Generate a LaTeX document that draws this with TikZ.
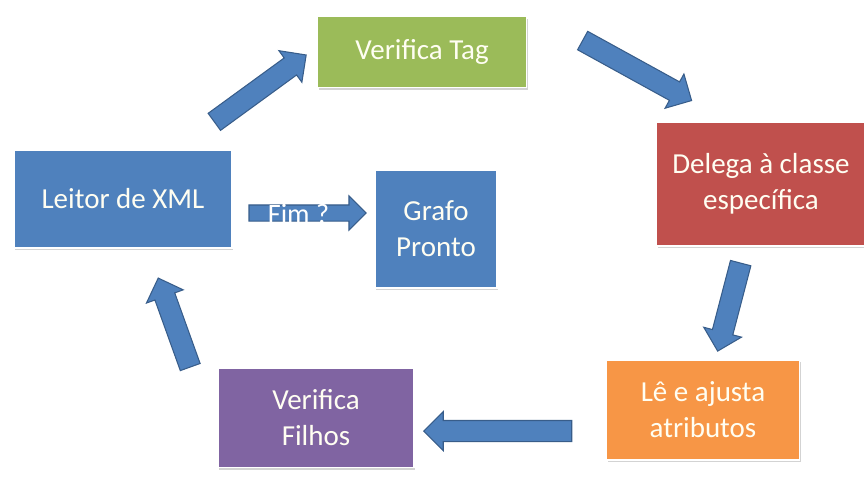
\documentclass[tikz,border=0pt]{standalone}
\usepackage{fontspec}
\setmainfont{Carlito}
\usetikzlibrary{shapes.arrows,calc,shadows}
\definecolor{cxml}{HTML}{4F81BD}
\definecolor{ctag}{HTML}{9BBB59}
\definecolor{cdel}{HTML}{C0504D}
\definecolor{catr}{HTML}{F79646}
\definecolor{cfil}{HTML}{8064A2}
\definecolor{cseta}{HTML}{385D8A}
\tikzset{
  caixa/.style={rectangle, draw=white, line width=1pt, text=white!95!yellow, align=center,
    font=\fontsize{16.5}{20.5}\selectfont, inner sep=2pt,
    drop shadow={opacity=0.35, shadow xshift=0.6pt, shadow yshift=-1.2pt}},
  seta/.style={single arrow, fill=cxml, draw=cseta, line width=0.6pt, inner xsep=0pt,
    inner ysep=0.2cm, single arrow head extend=0.18cm, single arrow tip angle=90,
    minimum width=0.76cm, anchor=center}
}
\begin{document}
\begin{tikzpicture}[x=0.02cm, y=-0.02cm]
\useasboundingbox (0,0) rectangle (864,491);
% caixas
\node[caixa, fill=cxml, minimum width=4.36cm, minimum height=1.96cm] (xml) at (123,199) {Leitor de XML};
\node[caixa, fill=ctag, minimum width=4.18cm, minimum height=1.42cm] (tag) at (422,52) {Verifica Tag};
\node[caixa, fill=cdel, minimum width=4.18cm, minimum height=2.48cm] (del) at (761,184) {Delega à classe\\específica};
\node[caixa, fill=catr, minimum width=3.86cm, minimum height=2.0cm] (atr) at (703,410) {Lê e ajusta\\atributos};
\node[caixa, fill=cfil, minimum width=3.92cm, minimum height=1.98cm] (fil) at (316,418) {Verifica\\Filhos};
\node[caixa, fill=cxml, minimum width=2.44cm, minimum height=2.36cm] (graf) at (436,229) {Grafo\\Pronto};
% pontas das setas
\coordinate (s1a) at (210,125); \coordinate (s1b) at (302,58);
\coordinate (s2a) at (578,38);  \coordinate (s2b) at (687,98);
\coordinate (s3a) at (742,258); \coordinate (s3b) at (719,346);
\coordinate (s4a) at (577,431); \coordinate (s4b) at (429,431);
\coordinate (s5a) at (192,372); \coordinate (s5b) at (160,283);
% setas
\foreach \s/\e in {s1a/s1b, s2a/s2b, s3a/s3b, s4a/s4b, s5a/s5b}
  \path let \p1=(\s), \p2=(\e), \n1={atan2(\y2-\y1,\x2-\x1)}, \n2={veclen(\x2-\x1,\y2-\y1)} in
    node[seta, rotate=\n1, minimum height=\n2] at ($(\s)!0.5!(\e)$) {};
\coordinate (fima) at (245,213); \coordinate (fimb) at (362,213);
\path let \p1=(fima), \p2=(fimb), \n2={veclen(\x2-\x1,\y2-\y1)} in
  node[seta, inner ysep=0.15cm, minimum width=0.68cm, minimum height=\n2] (fim) at ($(fima)!0.5!(fimb)$) {};
\node[text=white, font=\fontsize{16}{18}\selectfont] at ($(fim.center)+(-5,1)$) {Fim ?};
\end{tikzpicture}
\end{document}
